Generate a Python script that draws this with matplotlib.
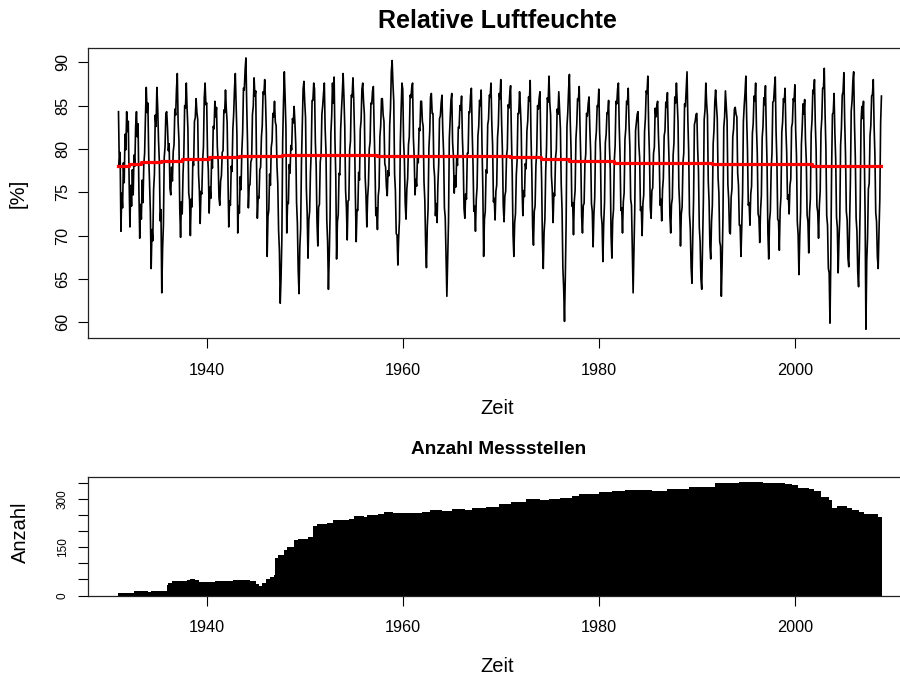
import numpy as np
import matplotlib.pyplot as plt

plt.rcParams['font.family'] = ['Liberation Sans', 'DejaVu Sans']

# Relative Luftfeuchte, Monatsmittel ab Januar 1931 [%]
feuchte_1931_1939 = [
    84.3, 78.1, 79.6, 70.5, 74.9, 73.2, 78.4, 76.1, 81.7, 79.9, 84.3, 82.0,
    83.2, 76.5, 71.0, 75.8, 73.4, 77.6, 74.7, 79.3, 78.0, 82.6, 84.3, 81.4,
    82.9, 75.1, 69.7, 73.6, 71.9, 76.4, 73.8, 78.2, 79.5, 83.7, 87.1, 84.2,
    85.3, 79.1, 76.2, 72.8, 66.2, 70.7, 69.4, 75.3, 77.1, 83.9, 82.6, 87.1,
    84.8, 81.0, 78.6, 71.7, 73.0, 63.4, 68.5, 71.2, 79.0, 80.3, 84.1, 84.3,
    82.5, 79.8, 80.6, 75.4, 74.7, 77.9, 76.3, 79.7, 80.5, 84.6, 83.9, 86.9,
    88.7, 83.1, 81.0, 73.2, 69.8, 73.9, 72.5, 77.1, 79.4, 85.0, 84.7, 87.6,
    84.6, 82.3, 74.9, 74.1, 70.0, 74.2, 73.3, 78.5, 78.1, 83.2, 83.6, 85.8,
    84.2, 83.4, 77.1, 75.2, 71.4, 75.1, 74.8, 78.6, 80.2, 85.9, 87.6, 85.1,
]
feuchte_1940_1949 = [
    85.3, 79.4, 77.5, 72.6, 75.6, 74.3, 78.9, 77.8, 82.6, 82.3, 85.5, 83.7,
    84.8, 80.2, 78.6, 74.4, 73.5, 76.3, 76.9, 79.6, 79.8, 84.5, 84.2, 86.8,
    84.6, 83.1, 76.8, 71.0, 74.0, 73.5, 78.0, 77.4, 82.3, 84.0, 86.9, 88.7,
    85.2, 81.6, 70.3, 73.4, 72.6, 76.8, 75.3, 79.7, 81.9, 87.0, 86.8, 89.1,
    90.5, 85.0, 80.6, 73.2, 75.7, 75.9, 78.5, 78.8, 84.0, 84.9, 88.2, 86.1,
    86.7, 78.3, 72.0, 74.5, 74.3, 77.6, 77.9, 81.4, 82.7, 86.6, 86.3, 88.0,
    85.6, 81.9, 67.6, 72.2, 72.9, 77.1, 75.8, 80.2, 80.9, 84.1, 83.7, 85.5,
    83.1, 82.7, 78.1, 76.0, 70.6, 68.3, 62.2, 65.1, 69.6, 80.9, 85.4, 88.9,
    85.9, 82.4, 70.3, 73.9, 73.7, 78.2, 77.2, 80.4, 79.9, 83.5, 83.0, 84.9,
    83.0, 80.5, 73.8, 71.4, 66.0, 63.3, 68.7, 70.8, 78.5, 82.5, 86.9, 87.8,
]
feuchte_1950_1959 = [
    85.4, 83.6, 75.4, 72.6, 67.4, 71.8, 72.8, 77.3, 79.8, 85.6, 85.6, 87.6,
    86.9, 80.8, 78.1, 71.6, 68.8, 73.3, 73.6, 78.5, 79.3, 84.0, 85.0, 86.4,
    87.6, 82.3, 79.7, 71.8, 69.3, 63.8, 67.6, 72.1, 81.8, 83.8, 87.6, 85.3,
    88.3, 81.0, 76.9, 67.3, 71.6, 72.4, 77.2, 77.0, 82.3, 84.5, 86.4, 88.7,
    86.0, 82.6, 75.2, 73.3, 69.5, 74.0, 74.1, 79.9, 80.9, 86.2, 86.0, 88.2,
    85.7, 81.5, 74.6, 69.3, 73.0, 72.9, 77.3, 76.4, 82.2, 83.3, 86.9, 87.6,
    85.5, 84.0, 76.7, 74.6, 71.0, 74.4, 75.9, 80.0, 80.8, 85.3, 85.2, 86.7,
    87.2, 82.2, 78.2, 72.3, 73.2, 70.7, 74.6, 75.5, 81.4, 82.7, 85.8, 85.8,
    83.9, 83.2, 78.3, 77.9, 75.6, 74.6, 77.5, 76.9, 82.7, 84.7, 88.9, 90.2,
    87.5, 85.5, 77.1, 75.2, 70.2, 70.1, 66.6, 69.8, 71.8, 80.7, 84.5, 87.6,
]
feuchte_1960_1969 = [
    86.9, 81.0, 78.7, 73.7, 71.9, 75.4, 76.6, 80.5, 81.4, 86.2, 85.9, 87.1,
    87.6, 81.3, 79.1, 74.7, 76.5, 75.7, 79.2, 78.4, 82.4, 82.1, 85.5, 85.5,
    83.2, 82.6, 76.2, 74.1, 69.0, 66.3, 71.0, 73.1, 80.1, 82.0, 86.0, 86.4,
    84.1, 84.1, 78.0, 76.8, 72.3, 73.7, 71.5, 75.9, 78.2, 83.5, 83.8, 85.3,
    86.2, 82.1, 79.6, 73.2, 72.1, 67.3, 63.0, 67.2, 71.6, 81.2, 83.3, 85.6,
    86.4, 80.8, 79.2, 74.9, 76.9, 75.6, 79.0, 78.1, 82.5, 82.4, 85.0, 84.5,
    86.1, 81.3, 78.7, 73.1, 72.0, 74.8, 74.2, 79.5, 79.5, 84.3, 84.2, 86.2,
    87.0, 82.0, 78.3, 72.8, 73.4, 70.5, 74.2, 75.6, 81.5, 82.6, 85.6, 85.0,
    86.8, 80.5, 75.5, 67.6, 71.9, 72.8, 77.6, 77.2, 82.8, 83.4, 86.2, 86.0,
    87.6, 83.0, 80.4, 73.9, 74.3, 71.8, 75.1, 75.8, 81.3, 82.7, 86.4, 85.8,
]
feuchte_1970_1979 = [
    88.0, 83.1, 79.8, 73.5, 71.6, 74.6, 75.1, 79.1, 80.0, 85.1, 84.7, 86.3,
    87.3, 81.7, 77.1, 70.1, 67.6, 71.5, 72.5, 77.0, 78.7, 84.1, 84.1, 86.6,
    84.8, 82.4, 75.7, 72.3, 75.2, 74.5, 78.3, 77.7, 82.1, 83.2, 86.0, 85.5,
    87.9, 81.4, 77.3, 70.9, 68.9, 72.8, 73.4, 78.1, 79.7, 85.0, 84.6, 85.9,
    86.6, 80.3, 76.4, 69.3, 66.2, 70.4, 71.9, 77.5, 80.1, 85.9, 85.4, 88.4,
    85.3, 83.9, 76.9, 75.3, 71.5, 74.9, 74.6, 78.9, 79.9, 84.6, 84.0, 86.6,
    84.4, 82.3, 75.9, 73.0, 66.3, 63.9, 60.1, 65.3, 71.5, 82.6, 84.2, 86.8,
    88.6, 83.3, 80.0, 73.4, 73.8, 70.1, 74.0, 75.2, 81.2, 82.8, 85.8, 85.6,
    87.2, 82.5, 78.5, 72.2, 70.3, 73.5, 73.7, 78.3, 79.4, 84.1, 83.8, 85.2,
    86.0, 82.4, 79.7, 73.7, 72.8, 68.7, 72.5, 74.4, 80.8, 82.0, 85.0, 84.9,
]
feuchte_1980_1989 = [
    86.9, 81.9, 79.5, 72.4, 71.3, 67.0, 71.4, 73.8, 80.7, 81.7, 84.2, 84.1,
    85.6, 80.4, 77.7, 70.0, 67.4, 71.8, 73.0, 78.7, 80.4, 85.5, 85.2, 86.9,
    87.6, 82.6, 79.2, 72.9, 73.2, 70.3, 73.9, 74.9, 81.1, 82.3, 85.5, 85.2,
    87.0, 82.9, 80.3, 74.2, 73.5, 68.5, 63.4, 68.0, 73.0, 82.1, 83.0, 84.0,
    84.3, 80.5, 79.0, 72.9, 73.3, 70.0, 73.7, 74.7, 82.0, 83.5, 86.7, 86.4,
    88.4, 82.7, 79.3, 73.3, 72.0, 75.2, 75.5, 79.5, 80.2, 84.7, 83.7, 85.0,
    85.5, 81.5, 79.1, 73.5, 74.2, 71.7, 75.3, 76.6, 81.5, 82.1, 85.4, 84.8,
    86.5, 81.8, 78.6, 72.3, 70.3, 73.6, 74.3, 79.3, 80.7, 86.0, 85.3, 87.6,
    85.4, 83.1, 75.6, 73.5, 68.8, 72.5, 73.3, 78.4, 79.5, 85.2, 84.9, 86.8,
    88.9, 83.4, 79.8, 72.5, 70.8, 66.3, 64.5, 69.7, 74.1, 82.8, 83.2, 84.0,
]
feuchte_1990_1999 = [
    84.1, 80.0, 77.5, 71.0, 69.3, 65.0, 63.8, 68.9, 74.0, 83.4, 84.5, 87.6,
    85.3, 83.8, 76.3, 73.9, 68.8, 67.3, 71.6, 73.5, 80.6, 82.2, 85.4, 86.8,
    85.0, 83.5, 76.7, 74.9, 69.3, 68.8, 63.0, 67.0, 72.2, 82.5, 83.7, 86.7,
    84.9, 83.3, 75.9, 74.2, 70.4, 70.2, 74.4, 75.4, 81.4, 82.3, 84.6, 84.8,
    84.0, 83.7, 77.2, 75.8, 71.2, 71.2, 67.6, 71.0, 74.9, 83.2, 85.0, 86.5,
    88.4, 83.6, 79.9, 73.5, 73.8, 71.2, 74.8, 75.7, 81.8, 82.9, 86.1, 85.5,
    87.6, 82.4, 79.5, 72.5, 72.1, 69.2, 72.9, 74.6, 81.3, 82.6, 85.9, 85.1,
    87.3, 82.2, 78.0, 70.3, 67.3, 71.7, 72.8, 77.6, 79.5, 85.4, 85.5, 87.1,
    88.3, 82.0, 78.7, 71.9, 71.7, 68.3, 73.0, 74.5, 81.9, 83.1, 85.8, 85.4,
    87.0, 82.3, 79.6, 74.2, 74.7, 72.5, 75.8, 76.5, 82.5, 83.0, 85.8, 85.5,
]
# 2000 bis November 2008
feuchte_2000_2008 = [
    87.4, 82.1, 79.2, 71.6, 70.1, 65.5, 70.0, 72.7, 80.5, 82.5, 85.2, 84.0,
    85.7, 81.0, 78.7, 72.4, 71.6, 68.0, 72.7, 74.3, 81.8, 83.3, 86.8, 86.4,
    88.0, 83.0, 80.0, 73.4, 72.7, 69.7, 73.5, 75.1, 82.0, 83.5, 87.0, 87.0,
    89.3, 84.0, 80.1, 72.3, 71.2, 66.2, 65.7, 59.9, 67.3, 77.7, 84.0, 84.2,
    86.4, 81.8, 78.8, 72.1, 70.9, 65.7, 69.5, 72.0, 80.4, 82.4, 86.2, 86.6,
    88.8, 83.2, 79.4, 72.8, 71.8, 67.4, 66.4, 71.3, 76.3, 84.4, 85.5, 87.8,
    88.9, 82.9, 79.1, 72.0, 70.5, 65.8, 64.1, 68.4, 73.7, 83.1, 84.9, 83.5,
    85.5, 79.7, 72.3, 59.2, 67.1, 69.8, 75.4, 76.0, 81.5, 82.7, 86.1, 86.3,
    88.0, 82.6, 79.3, 72.7, 71.6, 67.6, 66.2, 70.5, 74.2, 83.0, 86.1,
]

# geglaetteter Verlauf (rot)
trend_jahr = [1931.0, 1932.06, 1933.26, 1935.3, 1937.5, 1940.2, 1943.3, 1947.7,
              1957.4, 1970.9, 1974.1, 1977.0, 1981.6, 1991.5, 2001.7, 2008.83]
trend_wert = [78.03, 78.26, 78.46, 78.65, 78.84, 79.03, 79.19, 79.34,
              79.19, 79.03, 78.84, 78.65, 78.42, 78.22, 78.03, 78.03]

# Anzahl Messstellen
anzahl_jahr = [1931.0, 1932.6, 1934.0, 1934.3, 1935.9, 1936.1, 1936.5, 1937.0,
               1938.0, 1938.3, 1938.8, 1939.2, 1940.8, 1942.7, 1943.5, 1944.4,
               1945.0, 1945.3, 1945.6, 1946.0, 1946.5, 1946.85, 1946.95, 1947.3,
               1947.9, 1948.2, 1948.9, 1949.3, 1950.3, 1950.85, 1951.3, 1952.3,
               1952.9, 1954.5, 1955.0, 1956.0, 1956.4, 1957.5, 1958.1, 1959.0,
               1962.0, 1962.8, 1964.0, 1965.0, 1966.3, 1967.1, 1968.5, 1969.8,
               1971.0, 1972.6, 1974.0, 1974.9, 1976.0, 1977.3, 1978.0, 1980.0,
               1981.3, 1982.7, 1985.4, 1987.0, 1989.2, 1990.9, 1991.9, 1993.0,
               1994.3, 1995.6, 1996.8, 1997.6, 1999.0, 1999.7, 2000.3, 2001.4,
               2002.0, 2002.7, 2003.5, 2003.8, 2004.3, 2004.8, 2005.3, 2005.8,
               2006.5, 2007.1, 2008.0, 2008.5, 2008.88]
anzahl_wert = [7, 13, 12, 13, 34, 40, 44, 46,
               47, 50, 48, 41, 44, 49, 47, 45,
               35, 30, 40, 50, 58, 64, 118, 128,
               142, 150, 172, 178, 182, 218, 223, 226,
               236, 240, 248, 246, 252, 254, 260, 257,
               262, 266, 265, 269, 268, 272, 277, 287,
               293, 300, 297, 302, 305, 310, 316, 324,
               326, 329, 327, 332, 338, 340, 350, 352,
               355, 356, 352, 350, 348, 344, 336, 334,
               325, 308, 298, 272, 280, 278, 272, 266,
               262, 254, 256, 246, 246]

feuchte = np.array(feuchte_1931_1939 + feuchte_1940_1949 + feuchte_1950_1959
                   + feuchte_1960_1969 + feuchte_1970_1979 + feuchte_1980_1989
                   + feuchte_1990_1999 + feuchte_2000_2008)
zeit = 1931 + np.arange(len(feuchte)) / 12.0

W, H = 900, 677
fig = plt.figure(figsize=(W / 100, H / 100), dpi=100)

def box(l, t, r, b):
    return [l / W, 1 - b / H, (r - l) / W, (b - t) / H]

xlim = (1927.89, 2011.95)

# oben: Luftfeuchte
ax1 = fig.add_axes(box(88, 47.7, 912, 338.3))
ax1.plot(zeit, feuchte, color='black', lw=1.2)
ax1.plot(trend_jahr, trend_wert, color='red', lw=2.3, drawstyle='steps-post')
ax1.set_xlim(*xlim)
ax1.set_ylim(58.15, 91.68)
ax1.set_xticks([1940, 1960, 1980, 2000])
ax1.set_yticks(range(60, 91, 5))
ax1.tick_params(axis='x', length=7.2, width=0.8, labelsize=11.7, pad=10.5)
ax1.tick_params(axis='y', length=7.2, width=0.8, labelsize=11.7, pad=5.5,
                labelrotation=90)
for lbl in ax1.get_yticklabels():
    lbl.set_va('center')

# unten: Anzahl Messstellen
ax2 = fig.add_axes(box(88, 476.7, 912, 595.5))
ax2.fill_between(anzahl_jahr, anzahl_wert, step='post', color='black', lw=0)
ax2.set_xlim(*xlim)
ax2.set_ylim(0, 371)
ax2.set_xticks([1940, 1960, 1980, 2000])
ax2.set_yticks(range(0, 351, 50))
ax2.set_yticklabels(['0', '', '', '150', '', '', '300', ''])
ax2.tick_params(axis='x', length=7.2, width=0.8, labelsize=11.7, pad=10.5)
ax2.tick_params(axis='y', length=7.2, width=0.8, labelsize=8.5, pad=6.5,
                labelrotation=90)
for lbl in ax2.get_yticklabels():
    lbl.set_va('center')

for ax in (ax1, ax2):
    for sp in ax.spines.values():
        sp.set_linewidth(0.9)
        sp.set_color('#222222')

fig.text(497.5 / W, 1 - 21 / H, 'Relative Luftfeuchte', ha='center', va='center',
         fontsize=18, fontweight='bold')
fig.text(498.5 / W, 1 - 450 / H, 'Anzahl Messstellen', ha='center', va='center',
         fontsize=13.7, fontweight='bold')
fig.text(497 / W, 1 - 409 / H, 'Zeit', ha='center', va='center', fontsize=14.5)
fig.text(497 / W, 1 - 666 / H, 'Zeit', ha='center', va='center', fontsize=14.5)
fig.text(18.5 / W, 1 - 193 / H, '[%]', ha='center', va='center', fontsize=14.5,
         rotation=90)
fig.text(20 / W, 1 - 532 / H, 'Anzahl', ha='center', va='center', fontsize=14.5,
         rotation=90)

fig.savefig('out.png', dpi=100, facecolor='white')
